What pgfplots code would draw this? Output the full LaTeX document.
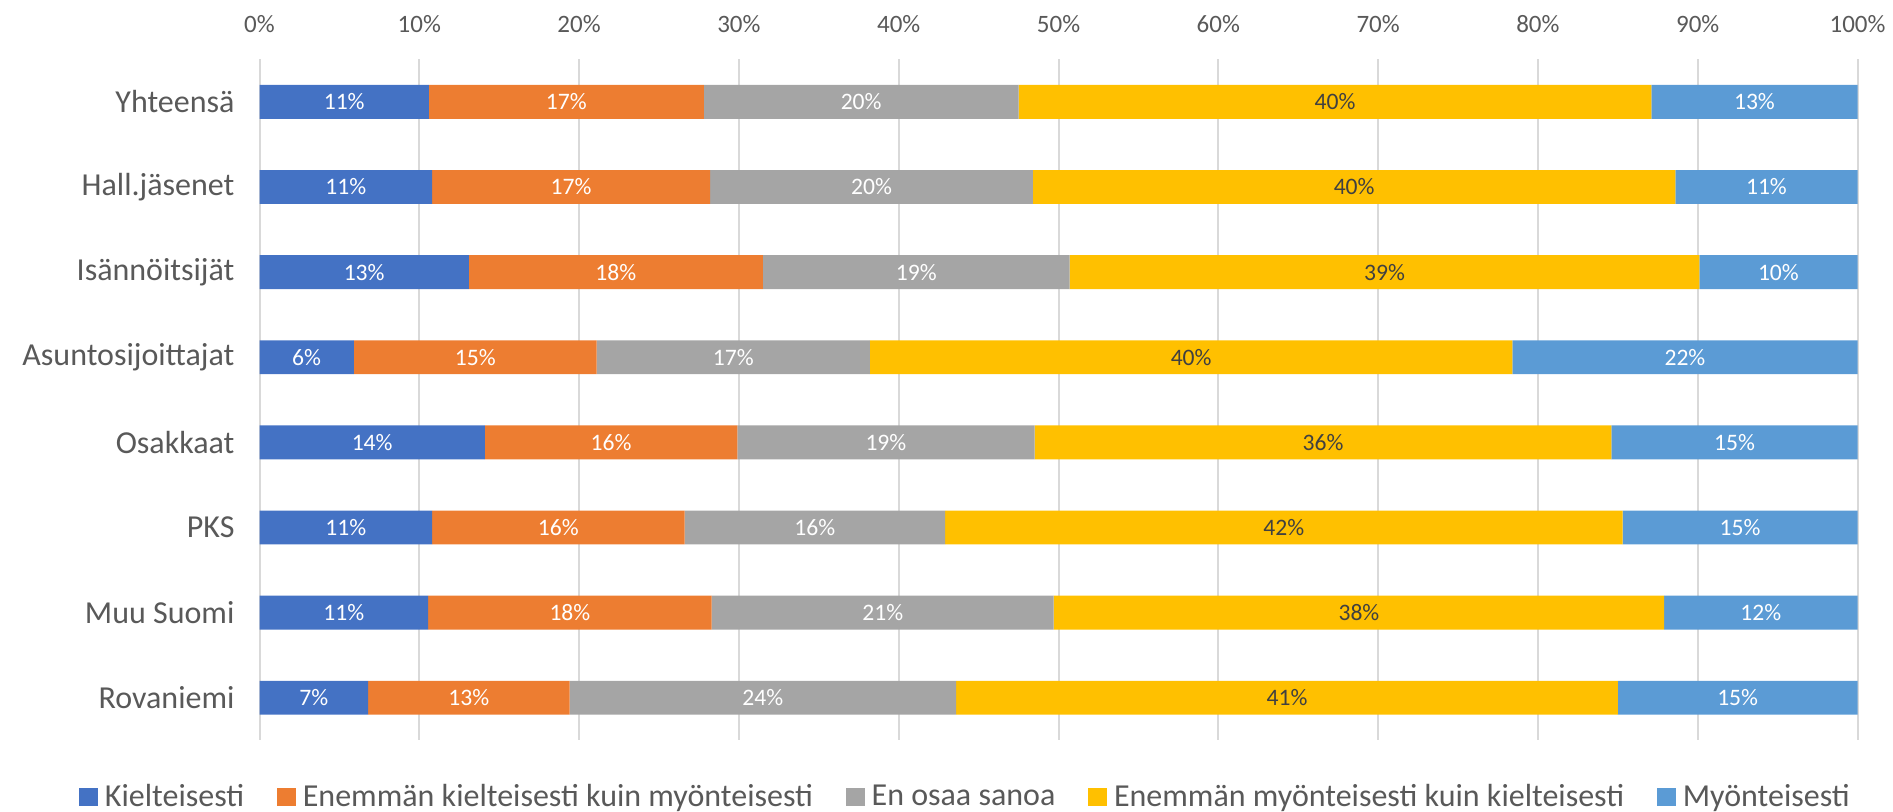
\documentclass[border=0pt]{standalone}
\usepackage{pgfplots}
\pgfplotsset{compat=1.18}
\usepackage{pgfplotstable}
\usepackage{fontspec}
\setmainfont{Carlito}
\definecolor{c1}{HTML}{4472C4}
\definecolor{c2}{HTML}{ED7D31}
\definecolor{c3}{HTML}{A5A5A5}
\definecolor{c4}{HTML}{FFC000}
\definecolor{c5}{HTML}{5B9BD5}
\definecolor{txt}{HTML}{595959}
\definecolor{dlab}{HTML}{404040}
\definecolor{gridc}{HTML}{D9D9D9}

\pgfplotstableread[col sep=comma]{
idx,a,b,c,d,e
0,10.6,17.2,19.7,39.6,12.9
1,10.8,17.4,20.2,40.2,11.4
2,13.1,18.4,19.2,39.4,9.9
3,5.9,15.2,17.1,40.2,21.6
4,14.1,15.8,18.6,36.1,15.4
5,10.8,15.8,16.3,42.4,14.7
6,10.55,17.75,21.4,38.2,12.1
7,6.8,12.6,24.2,41.4,15.0
}\data

\pgfplotsset{
  base/.style={
    scale only axis, width=799pt, height=340.5pt,
    xmin=0, xmax=100, ymin=-0.5, ymax=7.5, y dir=reverse,
    at={(129.75pt,-29.65pt)}, anchor=north west,
    /pgf/number format/assume math mode=true,
  },
  lab/.style={draw=none, mark=none, forget plot,
    nodes near coords={\pgfmathprintnumber[fixed,precision=0]{\pgfplotspointmeta}\%},
    nodes near coords style={anchor=center, font=\fontsize{11.8}{14}\selectfont, text=#1},
  },
}

\begin{document}
\begin{tikzpicture}
\begin{axis}[base,
  xbar stacked, bar width=16.9pt,
  axis line style={draw=none},
  tick style={draw=none}, major tick length=0pt,
  xmajorgrids, grid style={gridc, line width=1pt},
  xtick={0,10,...,100},
  xticklabels={0\%,10\%,20\%,30\%,40\%,50\%,60\%,70\%,80\%,90\%,100\%},
  xticklabel pos=upper,
  xticklabel style={anchor=base, yshift=13.6pt, font=\fontsize{12.5}{15}\selectfont, text=txt},
  ytick={0,...,7},
  yticklabels={Yhteensä,Hall.jäsenet,Isännöitsijät,Asuntosijoittajat,Osakkaat,PKS,Muu Suomi,Rovaniemi},
  yticklabel style={anchor=east, xshift=-9pt, font=\fontsize{16}{19}\selectfont, text=txt},
  legend columns=5,
  legend cell align=left,
  legend image code/.code={\fill[#1] (0pt,-4.65pt) rectangle (9.3pt,4.65pt);},
  legend style={at={(0.4434,-0.083)}, anchor=center, draw=none, fill=none,
    font=\fontsize{16}{19}\selectfont, text=txt,
    nodes={inner xsep=3.5pt},
    /tikz/every even column/.append style={column sep=13pt}},
]
\addplot[fill=c1, draw=none] table[x=a, y=idx]{\data};
\addlegendentry{Kielteisesti}
\addplot[fill=c2, draw=none] table[x=b, y=idx]{\data};
\addlegendentry{Enemmän kielteisesti kuin myönteisesti}
\addplot[fill=c3, draw=none] table[x=c, y=idx]{\data};
\addlegendentry{En osaa sanoa}
\addplot[fill=c4, draw=none] table[x=d, y=idx]{\data};
\addlegendentry{Enemmän myönteisesti kuin kielteisesti}
\addplot[fill=c5, draw=none] table[x=e, y=idx]{\data};
\addlegendentry{Myönteisesti}
\end{axis}
\begin{axis}[base, hide axis]
\addplot[lab=white, point meta=\thisrow{a}] table[x expr=\thisrow{a}/2, y=idx]{\data};
\addplot[lab=white, point meta=\thisrow{b}] table[x expr=\thisrow{a}+\thisrow{b}/2, y=idx]{\data};
\addplot[lab=white, point meta=\thisrow{c}] table[x expr=\thisrow{a}+\thisrow{b}+\thisrow{c}/2, y=idx]{\data};
\addplot[lab=dlab, point meta=\thisrow{d}] table[x expr=\thisrow{a}+\thisrow{b}+\thisrow{c}+\thisrow{d}/2, y=idx]{\data};
\addplot[lab=white, point meta=\thisrow{e}] table[x expr=\thisrow{a}+\thisrow{b}+\thisrow{c}+\thisrow{d}+\thisrow{e}/2, y=idx]{\data};
\end{axis}
\pgfresetboundingbox
\path[use as bounding box] (0,0) rectangle (946.5pt,-405.5pt);
\end{tikzpicture}
\end{document}
